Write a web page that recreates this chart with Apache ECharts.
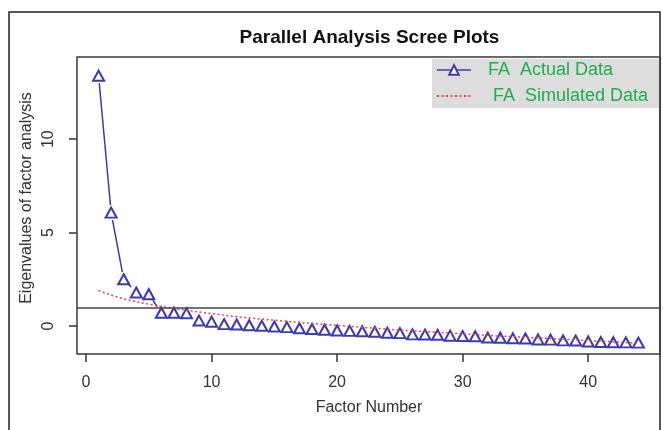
<!DOCTYPE html>
<html>
<head>
<meta charset="utf-8">
<script src="https://cdn.jsdelivr.net/npm/echarts@6/dist/echarts.min.js"></script>
<style>
html,body{margin:0;padding:0;background:#fff;}
#chart{width:663px;height:430px;}
</style>
</head>
<body>
<div id="chart"></div>
<script>
const factors = [1,2,3,4,5,6,7,8,9,10,11,12,13,14,15,16,17,18,19,20,21,22,23,24,25,26,27,28,29,30,31,32,33,34,35,36,37,38,39,40,41,42,43,44];
const actualData = [13.4,6.07,2.5,1.79,1.7,0.71,0.71,0.68,0.29,0.23,0.1,0.08,0.04,0.01,-0.03,-0.06,-0.12,-0.16,-0.2,-0.24,-0.26,-0.28,-0.31,-0.36,-0.38,-0.45,-0.46,-0.47,-0.52,-0.54,-0.55,-0.62,-0.63,-0.66,-0.67,-0.72,-0.73,-0.77,-0.78,-0.83,-0.86,-0.87,-0.88,-0.89];
const simulatedData = [1.9,1.65,1.45,1.3,1.17,1.05,0.94,0.84,0.75,0.66,0.58,0.5,0.43,0.37,0.31,0.25,0.19,0.13,0.08,0.03,-0.02,-0.07,-0.12,-0.17,-0.22,-0.26,-0.3,-0.34,-0.38,-0.42,-0.46,-0.5,-0.54,-0.57,-0.61,-0.64,-0.68,-0.71,-0.75,-0.78,-0.82,-0.85,-0.89,-0.92];
const xTicks = [0,10,20,30,40];
const yTicks = [0,5,10];
const refLine = 1;
const seriesNames = ['FA  Actual Data', ' FA  Simulated Data'];
const titleText = 'Parallel Analysis Scree Plots';
const xTitle = 'Factor Number';
const yTitle = 'Eigenvalues of factor analysis';

const FONT = '"Liberation Sans", Arial, sans-serif';
const BLUE = '#3b3bb0';
const RED = '#ff3b3b';
const actualPts = factors.map((f, i) => [f, actualData[i]]);
const simPts = factors.map((f, i) => [f, simulatedData[i]]);

const chart = echarts.init(document.getElementById('chart'), null, {renderer:'canvas'});
chart.setOption({
  animation: false,
  backgroundColor: '#fff',
  grid: {left: 77, top: 57, width: 583, height: 297, show: true, borderColor: '#3a3a3a', borderWidth: 1.5, backgroundColor: 'transparent'},
  xAxis: {
    type: 'value', min: -0.72, max: 45.72,
    axisLine: {show: false, onZero: false},
    splitLine: {show: false},
    axisTick: {show: true, length: 8, customValues: xTicks, lineStyle: {color: '#333', width: 1.5}},
    axisLabel: {customValues: xTicks, fontSize: 16, color: '#333', margin: 21, fontFamily: FONT}
  },
  yAxis: {
    type: 'value', min: -1.5, max: 14.4,
    axisLine: {show: false, onZero: false},
    splitLine: {show: false},
    axisTick: {show: true, length: 8, customValues: yTicks, lineStyle: {color: '#333', width: 1.5}},
    axisLabel: {customValues: yTicks, fontSize: 16, color: '#333', margin: 20, rotate: 90, fontFamily: FONT}
  },
  legend: {
    orient: 'vertical', left: 432, top: 59,
    backgroundColor: '#dddddd',
    padding: [2, 11, 3, 4],
    itemGap: 8, itemWidth: 34, itemHeight: 12,
    textStyle: {color: '#1fae4e', fontSize: 18, lineHeight: 17, padding: [0,0,0,12], fontFamily: FONT},
    data: [
      {name: seriesNames[0], lineStyle: {opacity: 1, color: BLUE, width: 1.5}},
      {name: seriesNames[1], itemStyle: {opacity: 0}}
    ]
  },
  series: [
    {
      name: 'actual-line', type: 'line', data: actualPts,
      symbol: 'none', showSymbol: false,
      lineStyle: {color: BLUE, width: 1.5}, z: 1, silent: true
    },
    {
      name: 'gap-mask', type: 'scatter', data: actualPts,
      symbol: 'circle', symbolSize: 15,
      itemStyle: {color: '#ffffff', opacity: 1, borderWidth: 0}, z: 2, silent: true
    },
    {
      name: seriesNames[0], type: 'line', data: actualPts,
      symbol: 'emptyTriangle', symbolSize: [11, 10],
      itemStyle: {color: BLUE, borderWidth: 1.5},
      lineStyle: {color: 'rgba(0,0,0,0)', width: 0},
      z: 3
    },
    {
      name: seriesNames[1], type: 'line', data: simPts,
      symbol: 'none', showSymbol: false,
      itemStyle: {color: RED},
      lineStyle: {color: RED, width: 1.5, type: [2, 2.5]},
      z: 4,
      markLine: {
        silent: true, symbol: 'none', label: {show: false},
        lineStyle: {color: '#444', type: 'solid', width: 1.5},
        data: [{yAxis: refLine}]
      }
    }
  ],
  graphic: [
    {type: 'rect', shape: {x: 9, y: 12, width: 651, height: 500}, style: {fill: 'none', stroke: '#222', lineWidth: 1.5}, z: -1, silent: true},
    {type: 'text', x: 369.5, y: 37.5, style: {text: titleText, font: 'bold 19px ' + FONT, fill: '#111', align: 'center', verticalAlign: 'middle'}},
    {type: 'text', x: 369, y: 408, style: {text: xTitle, font: '16px ' + FONT, fill: '#333', align: 'center', verticalAlign: 'middle'}},
    {type: 'text', x: 27, y: 198, rotation: Math.PI / 2, style: {text: yTitle, font: '16px ' + FONT, fill: '#333', align: 'center', verticalAlign: 'middle'}}
  ]
});
</script>
</body>
</html>
